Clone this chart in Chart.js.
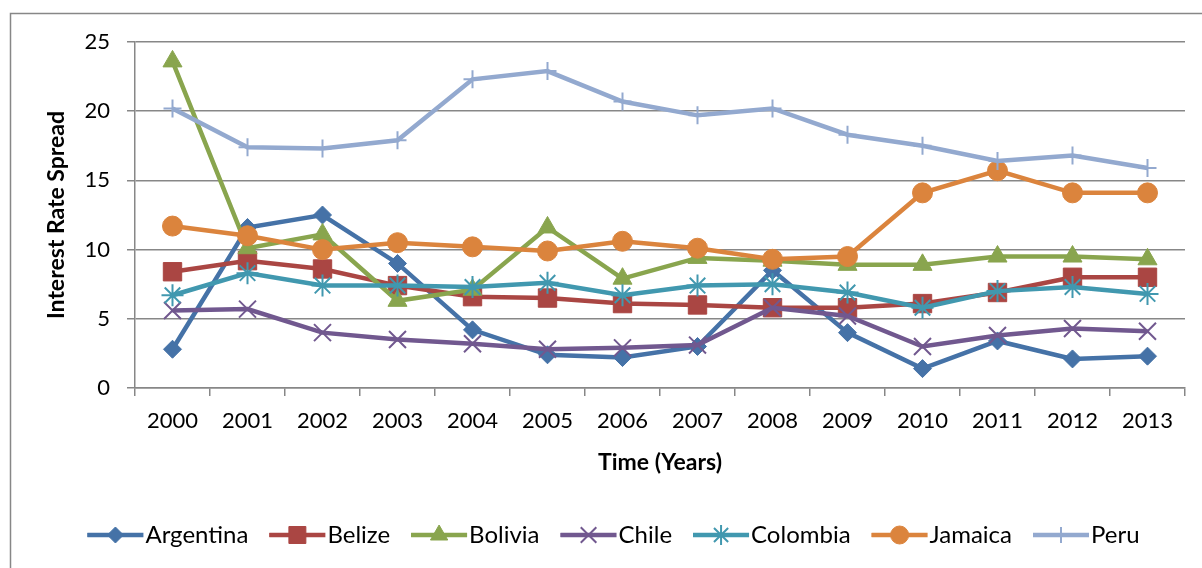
<!DOCTYPE html>
<html lang="en">

<head>
    <meta charset="UTF-8">
    <title>Interest Rate Spread</title>
    <script src="https://cdn.jsdelivr.net/npm/chart.js@4.4.1/dist/chart.umd.min.js"></script>
    <style>
        body {
            margin: 0;
            background: #fff;
        }
    </style>
</head>

<body>
    <canvas id="chart" width="1202" height="568"></canvas>
    <script>
        // values
        const years = ['2000', '2001', '2002', '2003', '2004', '2005', '2006', '2007', '2008', '2009', '2010', '2011', '2012', '2013'];
        const argentina = [2.8, 11.6, 12.5, 9.0, 4.2, 2.4, 2.2, 3.0, 8.5, 4.0, 1.4, 3.4, 2.1, 2.3];
        const belize = [8.4, 9.2, 8.6, 7.4, 6.6, 6.5, 6.1, 6.0, 5.8, 5.8, 6.1, 6.9, 8.0, 8.0];
        const bolivia = [23.6, 10.1, 11.1, 6.3, 7.1, 11.6, 7.9, 9.4, 9.2, 8.9, 8.9, 9.5, 9.5, 9.3];
        const chile = [5.6, 5.7, 4.0, 3.5, 3.2, 2.8, 2.9, 3.1, 5.8, 5.2, 3.0, 3.8, 4.3, 4.1];
        const colombia = [6.7, 8.3, 7.4, 7.4, 7.3, 7.6, 6.7, 7.4, 7.5, 6.9, 5.8, 7.0, 7.3, 6.8];
        const jamaica = [11.7, 11.0, 10.0, 10.5, 10.2, 9.9, 10.6, 10.1, 9.3, 9.5, 14.1, 15.7, 14.1, 14.1];
        const peru = [20.2, 17.4, 17.3, 17.9, 22.3, 22.9, 20.7, 19.7, 20.2, 18.3, 17.5, 16.4, 16.8, 15.9];

        const countries = ['Argentina', 'Belize', 'Bolivia', 'Chile', 'Colombia', 'Jamaica', 'Peru'];
        const seriesValues = [argentina, belize, bolivia, chile, colombia, jamaica, peru];
        const colors = ['#4572A7', '#AA4643', '#89A54E', '#71588F', '#4198AF', '#DB843D', '#93A9CF'];
        const markers = ['rectRot', 'rect', 'triangle', 'crossRot', 'star', 'circle', 'cross'];
        const markerSize = [9, 13, 11, 12, 11, 10, 9];
        const markerLine = [1, 1, 1, 2, 2, 1, 2];

        const gridColor = '#878787';
        const legendFont = 24;
        const legendBox = 46;
        // line drawn under the legend box, runs up to 2px before the text
        const legendLine = legendBox + legendFont / 2 - 2;

        Chart.defaults.font.family = 'Lato';
        Chart.defaults.color = '#000';

        const datasets = countries.map((name, i) => ({
            label: name,
            data: seriesValues[i],
            borderColor: colors[i],
            backgroundColor: colors[i],
            borderWidth: 4.5,
            tension: 0,
            pointStyle: markers[i],
            pointRadius: markerSize[i],
            pointHoverRadius: markerSize[i],
            pointBackgroundColor: colors[i],
            pointBorderColor: colors[i],
            pointBorderWidth: markerLine[i],
            order: countries.length - i
        }));

        // outer frame, legend placement and legend markers
        const extras = {
            id: 'extras',
            beforeDraw(chart) {
                const c = chart.ctx;
                c.save();
                c.strokeStyle = gridColor;
                c.lineWidth = 1.5;
                c.strokeRect(10.5, 13.5, 1400, 800);
                c.restore();
            },
            afterLayout(chart) {
                const lg = chart.legend;
                const pad = lg.options.labels.padding;
                const dx = 624 - (lg.left + lg.right + pad) / 2;
                lg.left += dx;
                lg.right += dx;
                const dy = 535 - legendFont / 2 - pad - lg.top;
                lg.top += dy;
                lg.bottom += dy;
            },
            afterDraw(chart) {
                const c = chart.ctx;
                const boxes = chart.legend.legendHitBoxes;
                boxes.forEach((hb, i) => {
                    const cy = hb.top + legendFont / 2;
                    c.save();
                    c.fillStyle = colors[i];
                    c.strokeStyle = colors[i];
                    c.lineWidth = 4.5;
                    c.beginPath();
                    c.moveTo(hb.left, cy);
                    c.lineTo(hb.left + legendLine, cy);
                    c.stroke();
                    c.lineWidth = markerLine[i];
                    Chart.helpers.drawPoint(c, {
                        pointStyle: markers[i],
                        radius: markerSize[i] - 1,
                        rotation: 0,
                        borderWidth: markerLine[i]
                    }, hb.left + legendLine / 2, cy);
                    c.restore();
                });
            }
        };

        new Chart(document.getElementById('chart'), {
            type: 'line',
            data: { labels: years, datasets: datasets },
            plugins: [extras],
            options: {
                responsive: false,
                animation: false,
                devicePixelRatio: 1,
                layout: { padding: { left: 10, right: 17, top: 42, bottom: 37 } },
                plugins: {
                    tooltip: { enabled: false },
                    legend: {
                        position: 'bottom',
                        labels: {
                            boxWidth: legendBox,
                            boxHeight: 4,
                            padding: 21,
                            font: { size: legendFont },
                            generateLabels: (chart) => chart.data.datasets.map((ds, i) => ({
                                text: ds.label,
                                fillStyle: colors[i],
                                strokeStyle: colors[i],
                                lineWidth: 0,
                                hidden: false,
                                datasetIndex: i
                            }))
                        }
                    }
                },
                scales: {
                    x: {
                        offset: true,
                        afterFit: (s) => { s.height = 88; },
                        grid: {
                            offset: true,
                            drawOnChartArea: false,
                            drawTicks: true,
                            tickLength: 8,
                            color: gridColor,
                            lineWidth: 1.5
                        },
                        border: { display: true, color: gridColor, width: 1.5 },
                        ticks: { font: { size: 22 }, padding: 12, maxRotation: 0 },
                        title: {
                            display: true,
                            text: 'Time (Years)',
                            font: { size: 23, weight: 'bold' },
                            padding: { top: 0, bottom: 0 }
                        }
                    },
                    y: {
                        min: 0,
                        max: 25,
                        afterFit: (s) => { s.width = 125; },
                        grid: {
                            drawTicks: true,
                            tickLength: 8,
                            color: gridColor,
                            lineWidth: 1.5
                        },
                        border: { display: true, color: gridColor, width: 1.5 },
                        ticks: { stepSize: 5, font: { size: 22 }, padding: 17 },
                        title: {
                            display: true,
                            text: 'Interest Rate Spread',
                            font: { size: 23, weight: 'bold' },
                            padding: { top: 33, bottom: 0 }
                        }
                    }
                }
            }
        });
    </script>
</body>

</html>
